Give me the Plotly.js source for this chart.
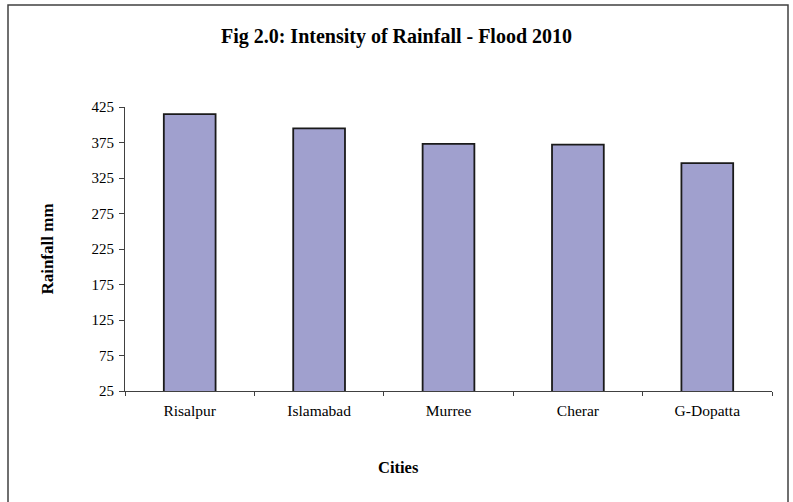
<!DOCTYPE html>
<html>
<head>
<meta charset="utf-8">
<script src="https://cdn.plot.ly/plotly-3.0.1.min.js"></script>
<style>html,body{margin:0;padding:0;background:#fff;}#chart{width:793px;height:502px;}</style>
</head>
<body>
<div id="chart"></div>
<script>
const cities = ["Risalpur", "Islamabad", "Murree", "Cherar", "G-Dopatta"];
const rainfall = [415, 395, 373, 372, 346];
const yTicks = [25, 75, 125, 175, 225, 275, 325, 375, 425];

const serif = "Liberation Serif, Times New Roman, serif";

const trace = {
  type: "bar",
  x: cities,
  y: rainfall,
  marker: { color: "#A0A0CE", line: { color: "#1a1a1a", width: 1.8 } },
  hoverinfo: "x+y"
};

const layout = {
  width: 793, height: 502,
  margin: { l: 125, r: 21, t: 107, b: 111 },
  paper_bgcolor: "#fff", plot_bgcolor: "#fff",
  bargap: 0.6,
  showlegend: false,
  title: {
    text: "<b>Fig 2.0: Intensity of Rainfall - Flood 2010</b>",
    font: { family: serif, size: 20, color: "#000" },
    x: 0.5, xref: "container", xanchor: "center",
    y: 1 - 36/502, yref: "container", yanchor: "middle"
  },
  xaxis: {
    type: "category",
    showline: true, linecolor: "#404040", linewidth: 1,
    ticks: "outside", ticklen: 4, tickcolor: "#404040",
    tickson: "boundaries",
    ticklabelstandoff: 5,
    showgrid: false, zeroline: false,
    tickfont: { family: serif, size: 15.5, color: "#000" },
    fixedrange: true
  },
  yaxis: {
    range: [25, 425],
    tickvals: yTicks,
    ticktext: yTicks.map(String),
    showline: true, linecolor: "#404040", linewidth: 1,
    ticks: "outside", ticklen: 5, tickcolor: "#404040",
    ticklabelstandoff: 2,
    showgrid: false, zeroline: false,
    tickfont: { family: serif, size: 15, color: "#000" },
    title: { text: "<b>Rainfall mm</b>", font: { family: serif, size: 17, color: "#000" }, standoff: 33 },
    fixedrange: true
  },
  annotations: [
    {
      text: "<b>Cities</b>", xref: "paper", yref: "paper",
      x: (398 - 125) / 647, y: -(467 - 391) / 284,
      xanchor: "center", yanchor: "middle", showarrow: false,
      font: { family: serif, size: 16.5, color: "#000" }
    }
  ],
  shapes: [
    {
      type: "rect", xref: "paper", yref: "paper",
      x0: (8 - 125) / 647, x1: (788 - 125) / 647,
      y0: -(520 - 391) / 284, y1: (391 - 5) / 284,
      line: { color: "#404040", width: 1.5 }, fillcolor: "rgba(0,0,0,0)", layer: "below"
    }
  ]
};

Plotly.newPlot("chart", [trace], layout, { displayModeBar: false, staticPlot: true });
</script>
</body>
</html>
